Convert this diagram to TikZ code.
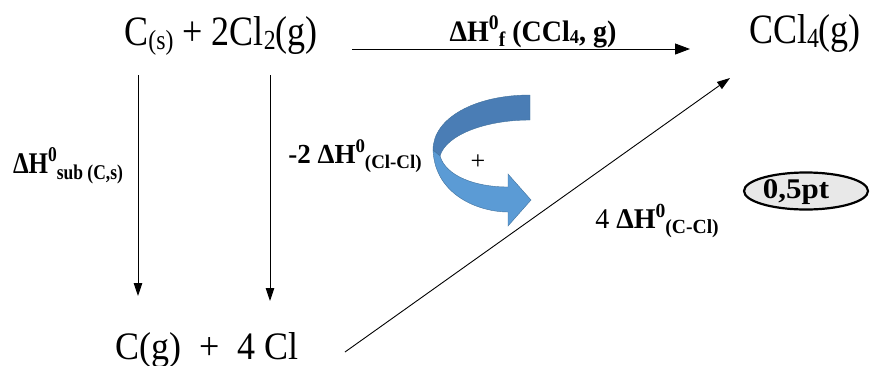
\documentclass[tikz,border=0pt]{standalone}
\usepackage{graphicx}
\usepackage{fontspec}
\setmainfont{Liberation Serif}
\usetikzlibrary{arrows.meta,shapes.geometric}
\newcommand{\vs}[2]{\scalebox{1}[#1]{#2}}
\newcommand{\msub}[1]{\raisebox{-0.1em}{\scalebox{0.66}{#1}}}
\newcommand{\sbs}[1]{\raisebox{-0.2em}{\scalebox{0.7}{#1}}}
\newcommand{\sps}[1]{\raisebox{0.38em}{\scalebox{0.7}{#1}}}
\definecolor{ribA}{HTML}{4A7DB5}
\definecolor{ribB}{HTML}{5B9BD5}
\definecolor{ribE}{HTML}{41719C}
\begin{document}
\begin{tikzpicture}[x=1pt,y=-1pt,
  species/.style={font=\fontsize{36}{40}\selectfont, inner sep=0pt, anchor=base},
  lab/.style={font=\bfseries\fontsize{#1}{30}\selectfont, inner sep=0pt, anchor=base},
  conn/.style={line width=0.9pt, -{Triangle[length=13pt,width=8.5pt]}},
  topconn/.style={line width=0.9pt, -{Triangle[length=15pt,width=11pt]}},
  ribbondark/.style={fill=ribA, draw=ribE, line width=0.4pt},
  ribbonlight/.style={fill=ribB, draw=ribE, line width=0.4pt},
  pill/.style={ellipse, draw, line width=2.2pt, fill=gray!18, minimum width=124pt, minimum height=37pt, inner sep=0pt}
]
\useasboundingbox (0,0) rectangle (871,365);

% species
\node[species] (top) at (221,45) {\vs{1.16}{C\msub{(s)} + 2Cl\msub{2}(g)}};
\node[species] (prod) at (805,43) {\vs{1.16}{CCl\msub{4}(g)}};
\node[species] (bot) at (207,359) {\vs{1.08}{C(g) \ + \ 4 Cl}};

% endpoints
\coordinate (a1) at (352,49);
\coordinate (a2) at (690,49);
\coordinate (v1s) at (138,75);
\coordinate (v1e) at (138,296);
\coordinate (v2s) at (270,75);
\coordinate (v2e) at (270,301);
\coordinate (ds) at (345,352);
\coordinate (de) at (730,78);

\draw[topconn] (a1) -- (a2);
\draw[conn] (v1s) -- (v1e);
\draw[conn] (v2s) -- (v2e);
\draw[conn] (ds) -- (de);

% labels
\node[lab=28] (lf) at (533,41) {\vs{1.06}{ΔH\sps{0}\sbs{f} (CCl\msub{4}, g)}};
\node[lab=25] (lsub) at (68,173) {\vs{1.2}{ΔH\sps{0}\sbs{sub (C,s)}}};
\node[lab=27] (lcl) at (355,163) {\vs{1.02}{-2 ΔH\sps{0}\sbs{(Cl-Cl)}}};
\node[lab=28] (lccl) at (657,228) {\vs{1.02}{\mdseries 4 \bfseries ΔH\sps{0}\sbs{(C-Cl)}}};
\node[font=\fontsize{26}{28}\selectfont, inner sep=0pt] (plus) at (478,162) {+};

% curved ribbon arrow
\filldraw[ribbondark] (530,95) .. controls (475,95) and (433,118) .. (433,150)
  -- (440,156) .. controls (446,135) and (485,120) .. (530,120) -- cycle;
\filldraw[ribbonlight] (433,150) .. controls (435,196) and (480,212) .. (508,212)
  -- (508,226) -- (531,200) -- (508,174) -- (508,187)
  .. controls (475,187) and (446,176) .. (440,156) -- cycle;

% score
\node[pill] (score) at (806,191) {};
\node[font=\bfseries\fontsize{31}{32}\selectfont, inner sep=0pt, anchor=base] (scoretxt) at (796,198) {\vs{0.92}{0,5pt}};
\end{tikzpicture}
\end{document}
